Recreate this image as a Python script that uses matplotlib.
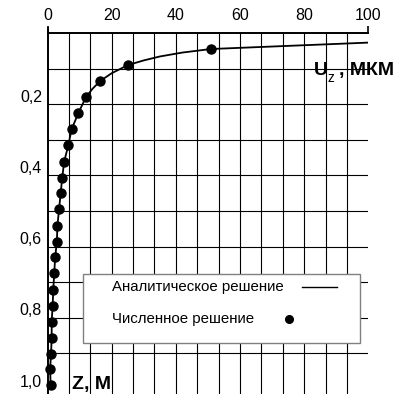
import matplotlib
matplotlib.use("Agg")
import matplotlib.pyplot as plt
from matplotlib.ticker import FixedLocator
from matplotlib.transforms import ScaledTranslation, blended_transform_factory
from matplotlib.patches import Rectangle
from matplotlib.lines import Line2D

plt.rcParams['font.family'] = ['Liberation Sans', 'DejaVu Sans']

# ---- data ----
num_z = [0.046, 0.090, 0.135, 0.180, 0.225, 0.271, 0.315, 0.361, 0.406, 0.450, 0.495,
         0.541, 0.588, 0.629, 0.674, 0.722, 0.766, 0.811, 0.857, 0.902, 0.944, 0.990]
num_u = [50.9, 25.1, 16.4, 12.0, 9.6, 7.5, 6.5, 5.2, 4.6, 4.1, 3.6,
         3.1, 2.9, 2.4, 2.1, 1.8, 1.6, 1.3, 1.3, 1.1, 0.8, 1.0]
ana_u = [100, 50.9, 42, 35, 30, 25.1, 20, 16.4, 14, 12.0, 9.6, 7.5, 6.5, 5.2, 4.6, 4.1, 3.6,
         3.1, 2.9, 2.4, 2.1, 1.8, 1.6, 1.3, 1.3, 1.1, 0.8, 1.0]
ana_z = [0.027, 0.045, 0.055, 0.066, 0.077, 0.090, 0.113, 0.135, 0.157, 0.180, 0.225, 0.271,
         0.315, 0.361, 0.406, 0.450, 0.495, 0.541, 0.588, 0.629, 0.674, 0.722, 0.766, 0.811,
         0.857, 0.902, 0.944, 0.990]
x_ticks = [0, 20, 40, 60, 80, 100]
y_ticks = [0.2, 0.4, 0.6, 0.8, 1.0]
y_tick_labels = ['0,2', '0,4', '0,6', '0,8', '1,0']
legend_labels = ['Аналитическое решение', 'Численное решение']

W, H = 398, 394
fig = plt.figure(figsize=(W / 100, H / 100), dpi=100)
ax = fig.add_axes([47.5 / W, 0, 320.8 / W, 361 / H])
ax.set_xlim(0, 100)
ax.set_ylim(1.014, 0)

for s in ['right', 'bottom']:
    ax.spines[s].set_visible(False)
for s in ['left', 'top']:
    ax.spines[s].set_linewidth(1.4)
ax.spines['left'].set_bounds(1.014, -0.014)

# grid
ax.xaxis.set_minor_locator(FixedLocator([k * 20 / 3 for k in range(1, 15)]))
ax.xaxis.remove_overlapping_locs = False
ax.yaxis.set_minor_locator(FixedLocator([0.1 * k for k in range(1, 10)]))
ax.grid(which='minor', color='black', linewidth=0.8)
ax.tick_params(which='minor', length=0)

# x ticks on top
ax.xaxis.tick_top()
ax.set_xticks(x_ticks)
ax.set_xticklabels([str(v) for v in x_ticks])
ax.tick_params(axis='x', which='major', length=5, width=1.2, pad=2.5, labelsize=11.5)
for i, t in enumerate(ax.xaxis.get_major_ticks()):
    if 0 < i < len(x_ticks) - 1:
        t.tick2line.set_visible(False)

# y labels
ax.set_yticks([])
tr = blended_transform_factory(ax.transAxes, ax.transData) + \
    ScaledTranslation(-5.5 / 100, 7 / 100, fig.dpi_scale_trans)
for v, lab in zip(y_ticks, y_tick_labels):
    ax.text(0, v, lab, transform=tr, ha='right', va='center', fontsize=11.5, clip_on=False)

# data
ax.plot(ana_u, ana_z, '-', color='black', linewidth=1.3, zorder=3)
ax.plot(num_u, num_z, 'o', color='black', markersize=6.5, zorder=4, clip_on=False)

# axis titles
fig.text(314 / W, 1 - 75 / H, 'U', fontsize=14, fontweight='bold', ha='left', va='baseline')
fig.text(328 / W, 1 - 82 / H, 'z', fontsize=10, ha='left', va='baseline')
fig.text(339 / W, 1 - 75 / H, ', МКМ', fontsize=14, fontweight='bold', ha='left', va='baseline')
fig.text(72 / W, 1 - 389 / H, 'Z, М', fontsize=14, fontweight='bold',
         ha='left', va='baseline')

# legend box
fig.add_artist(Rectangle((83 / W, 1 - 343 / H), 277 / W, 69 / H, transform=fig.transFigure,
                         facecolor='white', edgecolor='#808080', linewidth=1.0, zorder=5))
fig.text(112 / W, 1 - 287 / H, legend_labels[0], fontsize=10.8, ha='left', va='center', zorder=6)
fig.text(112 / W, 1 - 319 / H, legend_labels[1], fontsize=10.8, ha='left', va='center', zorder=6)
fig.add_artist(Line2D([302 / W, 337 / W], [1 - 287 / H, 1 - 287 / H], transform=fig.transFigure,
                      color='black', linewidth=1.0, zorder=6))
fig.add_artist(Line2D([289 / W], [1 - 319 / H], transform=fig.transFigure, marker='o',
                      color='black', markersize=5.5, linestyle='none', zorder=6))

fig.savefig('out.png', dpi=100)
